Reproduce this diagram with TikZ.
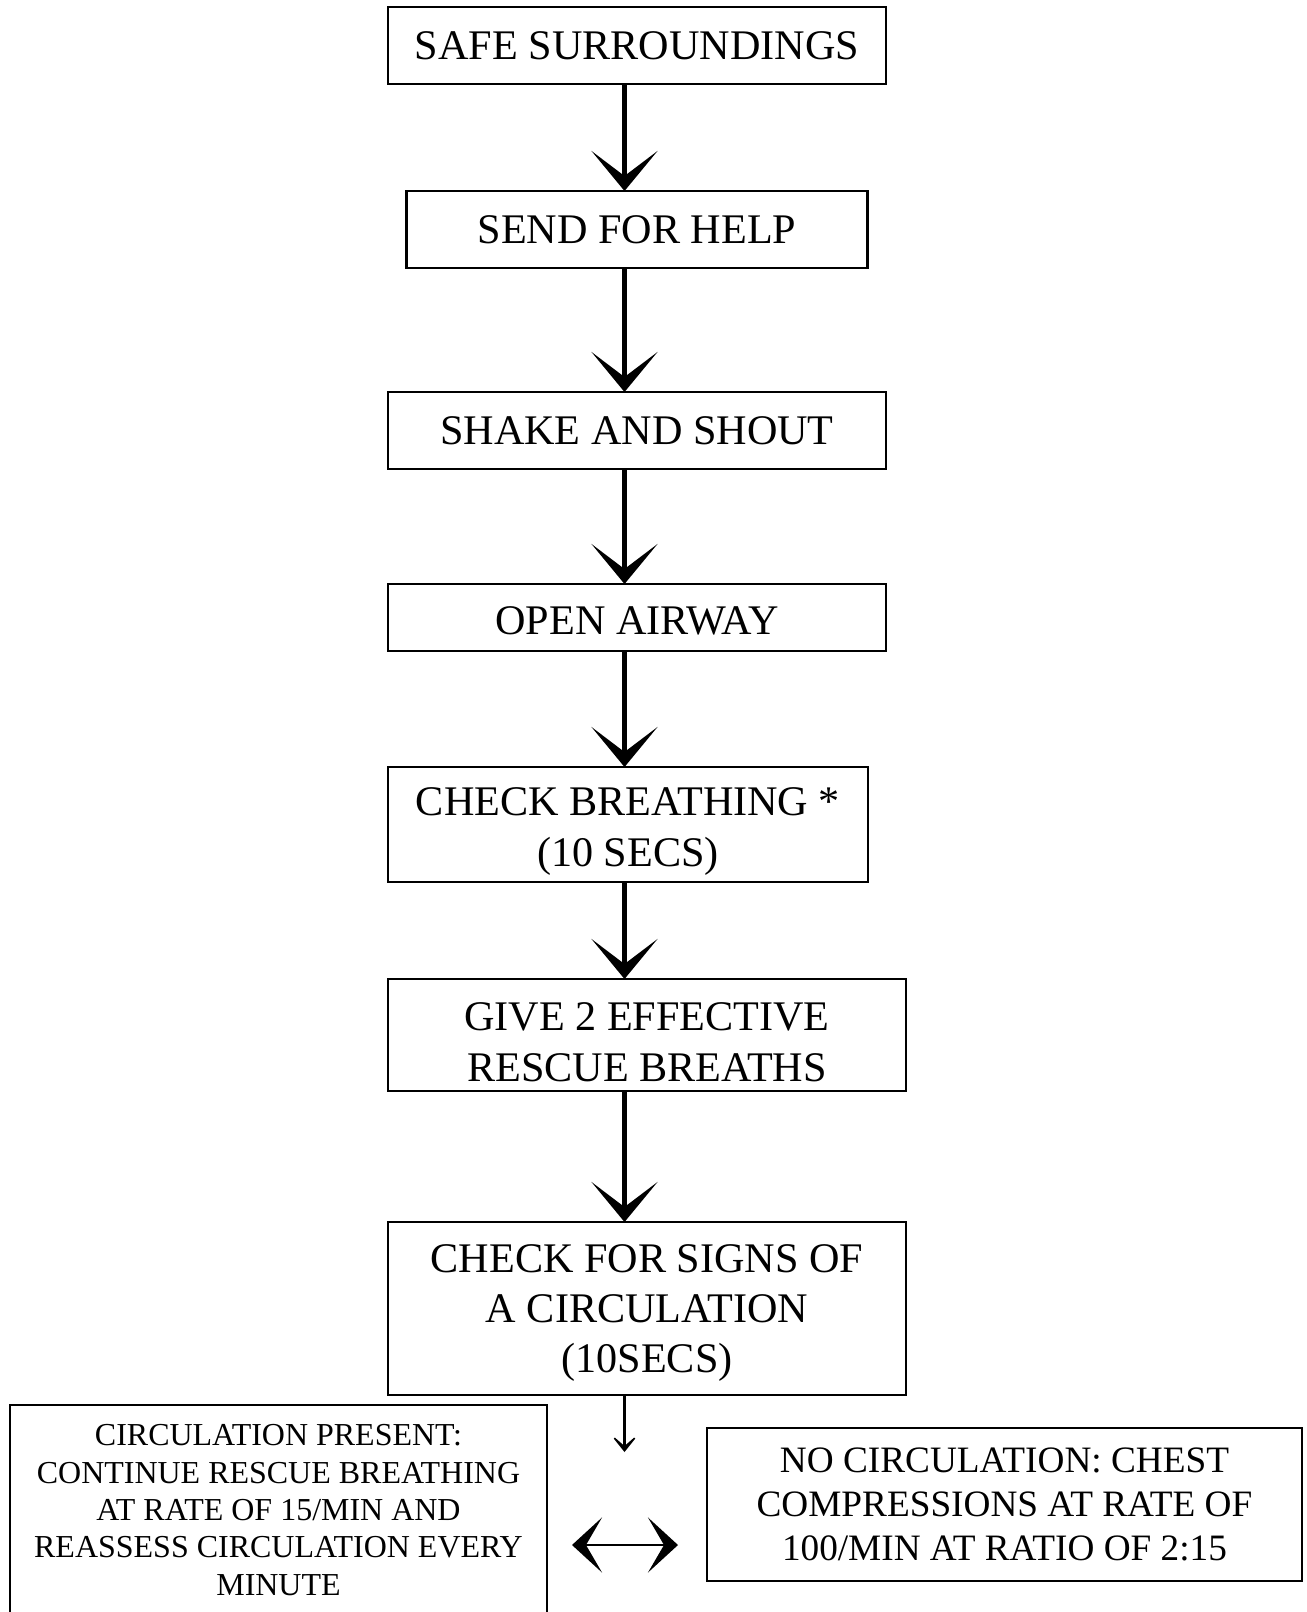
\documentclass[tikz,border=0pt]{standalone}
\usepackage{fontspec}
\setmainfont{Liberation Serif}
\usepackage{tikz}
\usetikzlibrary{arrows.meta,
positioning,
calc}

\begin{document}
\begin{tikzpicture}[
		node distance=2.3cm,
		stepbox/.style={
			draw,
			line width=1.2pt,
			align=center,
			minimum width=9.96cm,
			minimum height=1.54cm,
			inner sep=0pt,
			outer sep=0pt,
			font=\fontsize{24}{28.6}\selectfont
		},
		outcome/.style={
			draw,
			line width=1.2pt,
			align=center,
			inner sep=0pt,
			outer sep=0pt
		},
		flow/.style={
			line width=3.2pt,
			-{Stealth[length=0.8cm,width=1.32cm,inset=0.5cm]}
		},
		drop/.style={
			line width=1.5pt,
			-{Stealth[length=0.4cm,width=0.64cm,inset=0.28cm]}
		},
		pair/.style={
			line width=1.5pt,
			{Stealth[length=0.6cm,width=1.1cm,inset=0.32cm]}-{Stealth[length=0.6cm,width=1.1cm,inset=0.32cm]},
			shorten <=0.5cm,
			shorten >=0.58cm
		}
		]
		
		\useasboundingbox (0,0) rectangle (26.12,-32.24);
		
		% Top
		\node[stepbox, anchor=north west] (safe) at (7.76,-0.14) {SAFE SURROUNDINGS};
		
		\node[stepbox, minimum width=9.22cm, below=2.14cm of safe] (help) {SEND FOR HELP};
		
		\node[stepbox, below=2.48cm of help] (shake) {SHAKE AND SHOUT};
		
		\node[stepbox, minimum height=1.34cm, below=2.3cm of shake] (airway) {\rule{0pt}{20pt}OPEN AIRWAY};
		
		\node[stepbox, minimum width=9.6cm, minimum height=2.3cm,
		below=2.32cm of airway.south west, anchor=north west] (breathing)
		{\rule{0pt}{24pt}CHECK BREATHING *\\(10 SECS)};
		
		\node[stepbox, minimum width=10.36cm, minimum height=2.24cm,
		below=1.94cm of breathing.south west, anchor=north west] (rescue)
		{\rule{0pt}{24pt}GIVE 2 EFFECTIVE\\RESCUE BREATHS};
		
		\node[stepbox, minimum width=10.36cm, minimum height=3.46cm, below=2.62cm of rescue] (signs)
		{\rule{0pt}{21pt}CHECK FOR SIGNS OF\\A CIRCULATION\\(10SECS)};
		
		% Outcomes
		\node[outcome, minimum width=10.74cm, minimum height=4.2cm,
		below=0.2cm of signs.south west, anchor=north east, xshift=3.18cm,
		font=\fontsize{18.2}{21.3}\selectfont] (present)
		{CIRCULATION PRESENT:\\CONTINUE RESCUE BREATHING\\AT RATE OF 15/MIN AND\\REASSESS CIRCULATION EVERY\\MINUTE};
		
		\node[outcome, minimum width=11.9cm, minimum height=3.06cm,
		below=0.66cm of signs.south west, anchor=north west, xshift=6.38cm,
		font=\fontsize{21.2}{24.9}\selectfont] (absent)
		{NO CIRCULATION: CHEST\\COMPRESSIONS AT RATE OF\\100/MIN AT RATIO OF 2:15};
		
		\coordinate (spine) at (12.49,0);
		\coordinate (dropend) at (12.49,-29.04);
		\coordinate (swap) at (12.5,-30.9);
		
		% Connections
		\draw[flow] (safe.south -| spine) -- (help.north -| spine);
		\draw[flow] (help.south -| spine) -- (shake.north -| spine);
		\draw[flow] (shake.south -| spine) -- (airway.north -| spine);
		\draw[flow] (airway.south -| spine) -- (breathing.north -| spine);
		\draw[flow] (breathing.south -| spine) -- (rescue.north -| spine);
		\draw[flow] (rescue.south -| spine) -- (signs.north -| spine);
		
		\draw[drop] (signs.south -| spine) -- (dropend);
		\draw[pair] (present.east |- swap) -- (absent.west |- swap);
		
	\end{tikzpicture}
\end{document}
